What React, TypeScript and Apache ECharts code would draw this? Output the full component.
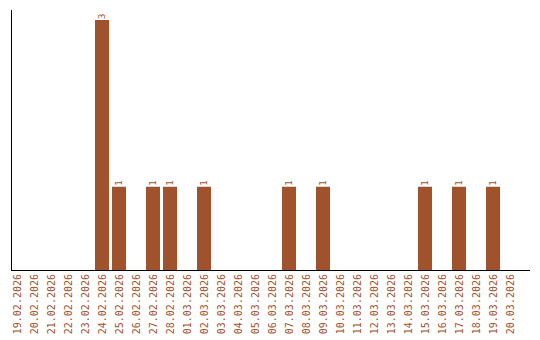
import React, { useEffect, useRef } from "react";
import * as echarts from "echarts";

const categories = [
  "19.02.2026", "20.02.2026", "21.02.2026", "22.02.2026", "23.02.2026",
  "24.02.2026", "25.02.2026", "26.02.2026", "27.02.2026", "28.02.2026",
  "01.03.2026", "02.03.2026", "03.03.2026", "04.03.2026", "05.03.2026",
  "06.03.2026", "07.03.2026", "08.03.2026", "09.03.2026", "10.03.2026",
  "11.03.2026", "12.03.2026", "13.03.2026", "14.03.2026", "15.03.2026",
  "16.03.2026", "17.03.2026", "18.03.2026", "19.03.2026", "20.03.2026",
];
const counts = [
  0, 0, 0, 0, 0, 3, 1, 0, 1, 1,
  0, 1, 0, 0, 0, 0, 1, 0, 1, 0,
  0, 0, 0, 0, 1, 0, 1, 0, 1, 0,
];

const COLOR = "#a0522d";
const FONT = "DejaVu Sans Mono";

export default function App() {
  const ref = useRef<HTMLDivElement>(null);
  useEffect(() => {
    if (!ref.current) return;
    const chart = echarts.init(ref.current, null, { renderer: "svg" });
    chart.setOption({
      animation: false,
      grid: { left: 8.5, right: 21.5, top: 20, bottom: 70, containLabel: false },
      xAxis: {
        type: "category",
        data: categories,
        axisLine: { show: false },
        axisTick: { show: false },
        axisLabel: {
          rotate: 90,
          interval: 0,
          margin: 4,
          color: COLOR,
          fontFamily: FONT,
          fontSize: 10,
        },
      },
      yAxis: {
        type: "value",
        min: 0,
        max: 3,
        show: false,
        splitLine: { show: false },
      },
      series: [
        {
          type: "bar",
          data: counts.map((v) => (v === 0 ? null : v)),
          barWidth: 14,
          itemStyle: { color: COLOR },
          label: {
            show: true,
            position: "top",
            rotate: 90,
            align: "left",
            verticalAlign: "middle",
            distance: 1,
            color: COLOR,
            fontFamily: FONT,
            fontSize: 9,
          },
        },
      ],
      graphic: [
        { type: "line", shape: { x1: 11.5, y1: 10, x2: 11.5, y2: 270 }, style: { stroke: "#000", lineWidth: 1 } },
        { type: "line", shape: { x1: 11, y1: 270.5, x2: 530, y2: 270.5 }, style: { stroke: "#000", lineWidth: 1 } },
      ],
    });
    return () => chart.dispose();
  }, []);
  return (
    <div
      ref={ref}
      style={{ position: "fixed", left: 0, top: 0, width: 540, height: 340, background: "#fff" }}
    />
  );
}
